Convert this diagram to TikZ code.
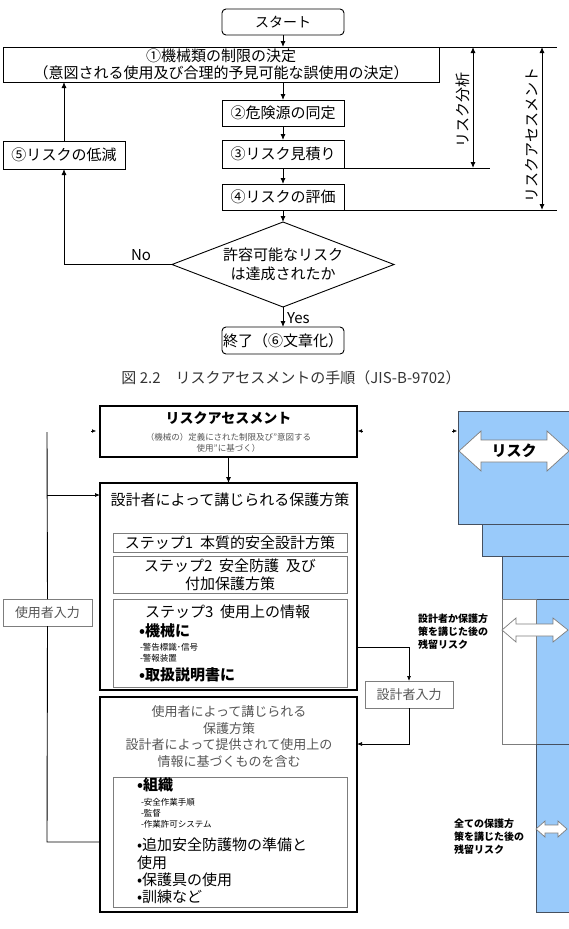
\documentclass[tikz,border=0pt]{standalone}
\usepackage{fontspec}
\setmainfont{Noto Sans CJK JP}
\usetikzlibrary{arrows.meta}
\definecolor{riskblue}{RGB}{153,202,250}
\definecolor{txtgray}{RGB}{85,85,85}
\definecolor{boxgray}{RGB}{125,125,125}
\definecolor{edgeblue}{RGB}{70,80,95}
\begin{document}
\begin{tikzpicture}[x=1pt,y=-1pt,
  every node/.style={inner sep=0pt, outer sep=0pt},
  fbox/.style={draw, line width=0.9pt, fill=white, align=center, font=\fontsize{15}{17.5}\selectfont},
  rbox/.style={fbox, rounded corners=4pt},
  tbox/.style={draw, line width=2.6pt, fill=white},
  ibox/.style={draw=boxgray, line width=0.6pt},
  gbox/.style={draw=boxgray, line width=0.7pt, fill=white, text=txtgray, font=\fontsize{13}{15}\selectfont},
  arr/.style={-{Latex[length=6pt,width=5pt]}, line width=0.9pt},
  darr/.style={{Latex[length=6pt,width=5pt]}-{Latex[length=6pt,width=5pt]}, line width=0.9pt},
  sarr/.style={-{Latex[length=5pt,width=4pt]}, line width=0.7pt},
  ln/.style={line width=0.9pt},
  big/.style={font=\fontsize{15}{18}\selectfont},
  bigb/.style={font=\fontsize{15}{18}\selectfont\bfseries},
  tiny/.style={font=\fontsize{8.5}{11}\selectfont},
  bluebox/.style={fill=riskblue, draw=edgeblue, line width=0.6pt},
  lbl/.style={font=\fontsize{10}{13}\selectfont\bfseries, align=left, anchor=north west}
]
\useasboundingbox (0,0) rectangle (569,929);

% ---------------- top flowchart ----------------
\node[rbox, minimum width=122pt, minimum height=26pt, font=\fontsize{14}{16}\selectfont] (start) at (283,22) {スタート};
\node[fbox, minimum width=436pt, minimum height=35pt] (b1) at (221,64.5)
  {①機械類の制限の決定\\（意図される使用及び合理的予見可能な誤使用の決定）};
\node[fbox, minimum width=122pt, minimum height=26pt] (b2) at (283,113) {②危険源の同定};
\node[fbox, minimum width=122pt, minimum height=28pt] (b3) at (283,154) {③リスク見積り};
\node[fbox, minimum width=122pt, minimum height=26pt] (b4) at (283,197) {④リスクの評価};
\node[fbox, minimum width=122pt, minimum height=28pt] (b5) at (64,155) {⑤リスクの低減};
\node[rbox, minimum width=122pt, minimum height=27pt] (b6) at (283,340.5) {終了（⑥文章化）};

\coordinate (dT) at (283,222);
\coordinate (dR) at (394,264.5);
\coordinate (dB) at (283,307);
\coordinate (dL) at (172,264.5);
\draw[ln, fill=white] (dT) -- (dR) -- (dB) -- (dL) -- cycle;
\node[align=center, font=\fontsize{15}{19}\selectfont] (dtext) at (283,264.5) {許容可能なリスク\\は達成されたか};

\draw[arr] (start.south) -- (b1.north -| start.south);
\draw[arr] (b1.south -| b2.north) -- (b2.north);
\draw[arr] (b2.south) -- (b3.north);
\draw[arr] (b3.south) -- (b4.north);
\draw[arr] (b4.south) -- (dT);
\draw[arr] (dB) -- (b6.north);
\coordinate (nocorner) at (b5.south |- dL);
\draw[arr] (dL) -- (nocorner) -- (b5.south);
\draw[arr] (b5.north) -- (b5.north |- b1.south);
\node[font=\fontsize{15}{17}\selectfont] (no) at (141,255) {No};
\node[font=\fontsize{15}{17}\selectfont, anchor=west] (yes) at (287,318) {Yes};

% dimension lines
\coordinate (e1) at (557,47);
\coordinate (e2) at (490,168);
\coordinate (e3) at (557,210);
\draw[ln] (b1.north east) -- (e1);
\draw[ln] (b3.south east) -- (e2);
\draw[ln] (b4.south east) -- (e3);
\coordinate (ra1) at (473,47);
\coordinate (ra2) at (473,168);
\coordinate (rb1) at (542,47);
\coordinate (rb2) at (542,210);
\draw[darr] (ra1) -- (ra2);
\draw[darr] (rb1) -- (rb2);
\node[rotate=90, font=\fontsize{15}{17}\selectfont] (lab1) at (463,110) {リスク分析};
\node[rotate=90, font=\fontsize{15}{17}\selectfont] (lab2) at (532,135) {リスクアセスメント};

% caption
\node[font=\fontsize{15}{18}\selectfont, text=black!80] (cap) at (291,378) {図 2.2　リスクアセスメントの手順（JIS-B-9702）};

% ---------------- bottom diagram ----------------
% blue staircase
\draw[bluebox] (458,411) rectangle (569,524);
\draw[bluebox] (482,524) rectangle (569,556);
\draw[bluebox] (502,556) rectangle (569,599);
\draw[bluebox] (536,599) rectangle (569,912);
\draw[fill=white, draw=boxgray, line width=0.6pt] (502,599) rectangle (536,744);
\draw[draw=edgeblue, line width=0.6pt] (536,744) -- (569,744);

% double arrows
\draw[fill=white, draw=boxgray, line width=0.7pt] (459,451) -- (481,431) -- (481,440) -- (547,440) -- (547,431) -- (569,451) -- (547,471) -- (547,462) -- (481,462) -- (481,471) -- cycle;
\node[font=\fontsize{15}{18}\selectfont\bfseries] (risk) at (514,451) {リスク};
\draw[fill=white, draw=boxgray, line width=0.7pt] (502,630) -- (516,618) -- (516,624) -- (553,624) -- (553,618) -- (568,630) -- (553,642) -- (553,636) -- (516,636) -- (516,642) -- cycle;
\draw[fill=white, draw=boxgray, line width=0.7pt] (536,829) -- (545,821) -- (545,825) -- (558,825) -- (558,821) -- (567,829) -- (558,837) -- (558,833) -- (545,833) -- (545,837) -- cycle;
\node[lbl] (res1) at (418,614) {設計者か保護方\\策を講じた後の\\残留リスク};
\node[lbl] (res2) at (454,819) {全ての保護方\\策を講じた後の\\残留リスク};

% risk assessment box
\node[tbox, minimum width=257pt, minimum height=51pt] (ra) at (228.5,431.5) {};
\node[font=\fontsize{14}{16}\selectfont\bfseries] (ratitle) at (228.5,418) {リスクアセスメント};
\node[tiny, text=txtgray, align=center] (rasub) at (228.5,442.5) {（機械の）定義にされた制限及び”意図する\\使用”に基づく）};

% designer box
\node[tbox, minimum width=257pt, minimum height=207pt] (des) at (228.5,586.5) {};
\node[big] (destitle) at (230,500) {設計者によって講じられる保護方策};
\node[ibox, big, minimum width=234pt, minimum height=19pt] (s1) at (230,542.5) {ステップ1\ \ 本質的安全設計方策};
\node[ibox, big, minimum width=234pt, minimum height=37pt, align=center] (s2) at (230,574.5) {ステップ2\ \ 安全防護\ \ 及び\\付加保護方策};
\node[ibox, minimum width=234pt, minimum height=88pt] (s3) at (230,643) {};
\node[big, anchor=west] (s3t) at (145,612) {ステップ3\ \ 使用上の情報};
\node[bigb, anchor=west] (s3a) at (139,631) {•機械に};
\node[tiny, anchor=west, align=left] (s3b) at (140,652.5) {-警告標識･信号\\-警報装置};
\node[bigb, anchor=west] (s3c) at (139,675) {•取扱説明書に};

% user box
\node[tbox, minimum width=257pt, minimum height=215pt] (usr) at (228.5,804.5) {};
\node[text=txtgray, font=\fontsize{13}{16.7}\selectfont, align=center] (usrt) at (229,736.5)
  {使用者によって講じられる\\保護方策\\設計者によって提供されて使用上の\\情報に基づくものを含む};
\node[ibox, minimum width=234pt, minimum height=130pt] (ui) at (230,842) {};
\node[bigb, anchor=west] (u1) at (137,785) {•組織};
\node[tiny, anchor=west, align=left] (u2) at (141,813.5) {-安全作業手順\\-監督\\-作業許可システム};
\node[big, anchor=west, align=left] (u3) at (137,853.5) {•追加安全防護物の準備と\\使用};
\node[big, anchor=west] (u4) at (137,880) {•保護具の使用};
\node[big, anchor=west] (u5) at (137,897) {•訓練など};

% input boxes
\node[gbox, minimum width=89pt, minimum height=27pt] (uin) at (47.5,612.5) {使用者入力};
\node[gbox, minimum width=88pt, minimum height=27pt] (din) at (409,694.5) {設計者入力};

% connectors
\coordinate (vtop) at (47,432);
\coordinate (vbot) at (47,842);
\draw[ln] (usr.west |- vbot) -- (vbot) -- (uin.south);
\draw[ln] (uin.north) -- (vtop);
\coordinate (vmid) at (47,495);
\draw[sarr] (vmid) -- (des.west |- vmid);
\draw[arr] (ra.south) -- (des.north);
\coordinate (dturn) at (409,647);
\draw[sarr] (des.east |- dturn) -- (dturn) -- (din.north);
\coordinate (uturn) at (409,744);
\draw[sarr] (din.south) -- (uturn) -- (usr.east |- uturn);

% stub arrowheads
\coordinate (t1a) at (91,431);
\coordinate (t1b) at (96,431);
\coordinate (t2a) at (363,431);
\coordinate (t2b) at (358,431);
\coordinate (t3a) at (452,431);
\coordinate (t3b) at (457,431);
\draw[-{Latex[length=4pt,width=3.5pt]}, line width=0.3pt] (t1a) -- (t1b);
\draw[-{Latex[length=4pt,width=3.5pt]}, line width=0.3pt] (t2a) -- (t2b);
\draw[-{Latex[length=4pt,width=3.5pt]}, line width=0.3pt] (t3a) -- (t3b);
\end{tikzpicture}
\end{document}
